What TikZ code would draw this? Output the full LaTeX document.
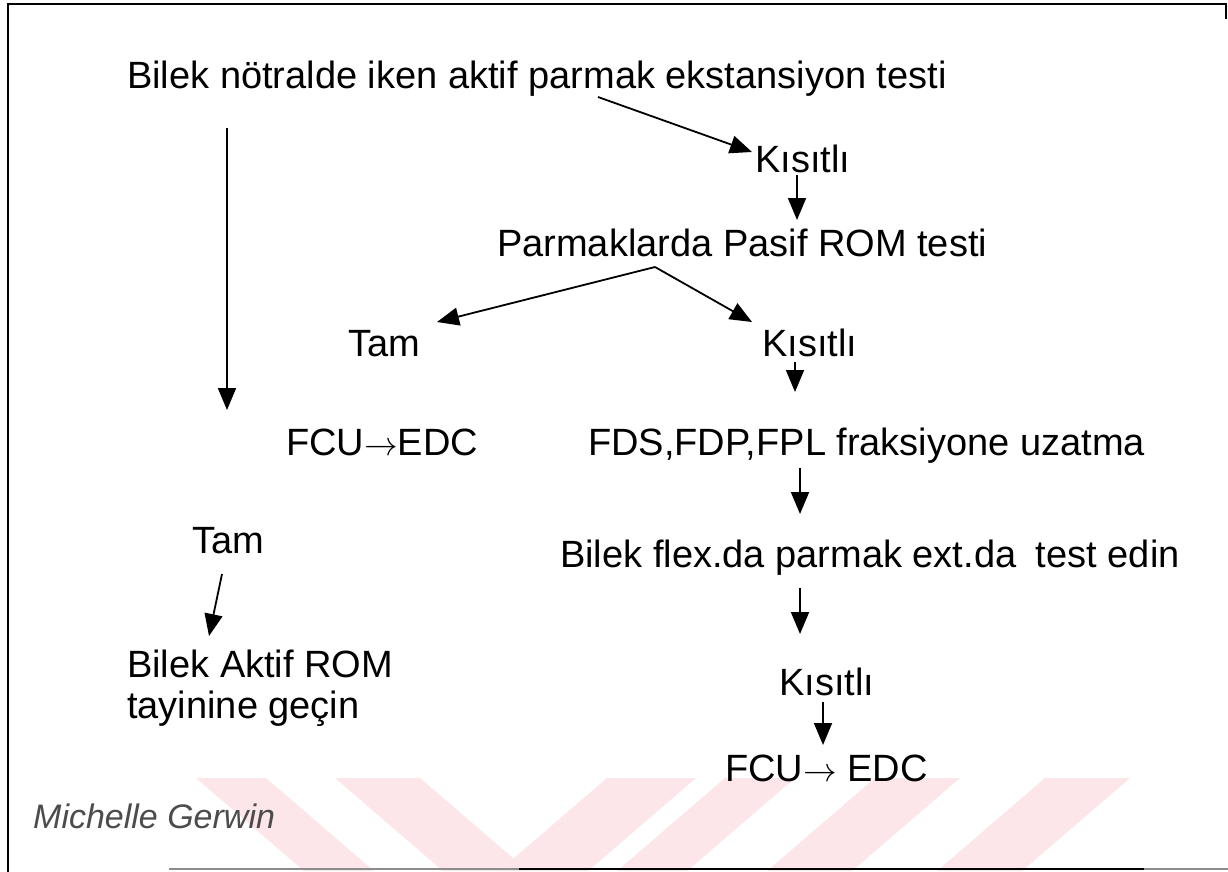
\documentclass[tikz,border=0pt]{standalone}
\usepackage{graphicx}
\usepackage{fontspec}
\setmainfont{Liberation Sans}
\usetikzlibrary{arrows.meta,calc}
\definecolor{wmpink}{HTML}{FDE6EA}
% thin long arrow used inside the muscle labels
\newcommand{\thinarrow}{\scalebox{1.35}{$\rightarrow$}}
\begin{document}
\begin{tikzpicture}[x=1pt,y=-1pt,
  lbl/.style={anchor=base west,inner sep=0pt,font=\fontsize{38}{41}\selectfont},
  flow/.style={line width=1.8pt,-{Triangle[length=22pt,width=18pt]}},
  stripe/.style={fill=wmpink,draw=none},
  frameline/.style={line width=2pt,line cap=rect}]
\useasboundingbox (0,0) rectangle (1228,871);
\fill[white] (0,0) rectangle (1228,871);

% pale stripes along the lower edge
\fill[stripe] (196,778) -- (266,778) -- (374,871) -- (304,871) -- cycle;
\fill[stripe] (335,778) -- (420,778) -- (528,871) -- (443,871) -- cycle;
\fill[stripe] (607,778) -- (696,778) -- (588,871) -- (499,871) -- cycle;
\fill[stripe] (725,778) -- (795,778) -- (687,871) -- (617,871) -- cycle;
\fill[stripe] (875,778) -- (960,778) -- (852,871) -- (767,871) -- cycle;
\fill[stripe] (1045,778) -- (1130,778) -- (1022,871) -- (937,871) -- cycle;

% frame
\draw[frameline] (8,871) -- (8,4) -- (1226,4) -- (1226,18);
\draw[frameline,black!45] (170,869) -- (520,869);
\draw[frameline] (520,869) -- (1145,869);
\draw[frameline,black!45] (1145,869) -- (1228,869);

% texts
\node[lbl] (title) at (127,88) {Bilek nötralde iken aktif parmak ekstansiyon testi};
\node[lbl] (k1) at (755,172) {Kısıtlı};
\node[lbl] (prom) at (497,256) {Parmaklarda Pasif ROM testi};
\node[lbl] (tam1) at (348,356) {Tam};
\node[lbl] (k2) at (762,356) {Kısıtlı};
\node[lbl] (fcu1) at (286,455) {FCU\thinarrow EDC};
\node[lbl] (fds) at (588,455) {FDS,FDP,FPL fraksiyone uzatma};
\node[lbl] (tam2) at (192,553) {Tam};
\node[lbl] (flex) at (560,567) {Bilek flex.da parmak ext.da\hspace{9pt} test edin};
\node[lbl,anchor=north west,align=left] (wrist) at (127,650) {Bilek Aktif ROM\\tayinine geçin};
\node[lbl] (k3) at (779,695) {Kısıtlı};
\node[lbl] (fcu2) at (725,781) {FCU\thinarrow\ EDC};
\node[anchor=base west,inner sep=0pt,text=black!70,
      font=\fontsize{34}{40}\selectfont\itshape] (author) at (33,828) {Michelle Gerwin};

% connector end points
\coordinate (t0) at (598,97);
\coordinate (t1) at (752,152);
\coordinate (k1a) at (797,175);
\coordinate (k1b) at (797,220);
\coordinate (apex) at (655,267);
\coordinate (tamtip) at (437,322);
\coordinate (k2tip) at (752,322);
\coordinate (k2a) at (795,362);
\coordinate (k2b) at (795,392);
\coordinate (la) at (227,128);
\coordinate (lb) at (227,410);
\coordinate (tama) at (222,574);
\coordinate (tamb) at (209,636);
\coordinate (fdsa) at (800,468);
\coordinate (fdsb) at (800,514);
\coordinate (flexa) at (800,588);
\coordinate (flexb) at (800,634);
\coordinate (k3a) at (823,702);
\coordinate (k3b) at (823,745);

% connectors
\draw[flow] (t0) -- (t1);
\draw[flow] (k1a) -- (k1b);
\draw[flow] (apex) -- (tamtip);
\draw[flow] (apex) -- (k2tip);
\draw[flow] (k2a) -- (k2b);
\draw[flow] (la) -- (lb);
\draw[flow] (tama) -- (tamb);
\draw[flow] (fdsa) -- (fdsb);
\draw[flow] (flexa) -- (flexb);
\draw[flow] (k3a) -- (k3b);
\end{tikzpicture}
\end{document}
